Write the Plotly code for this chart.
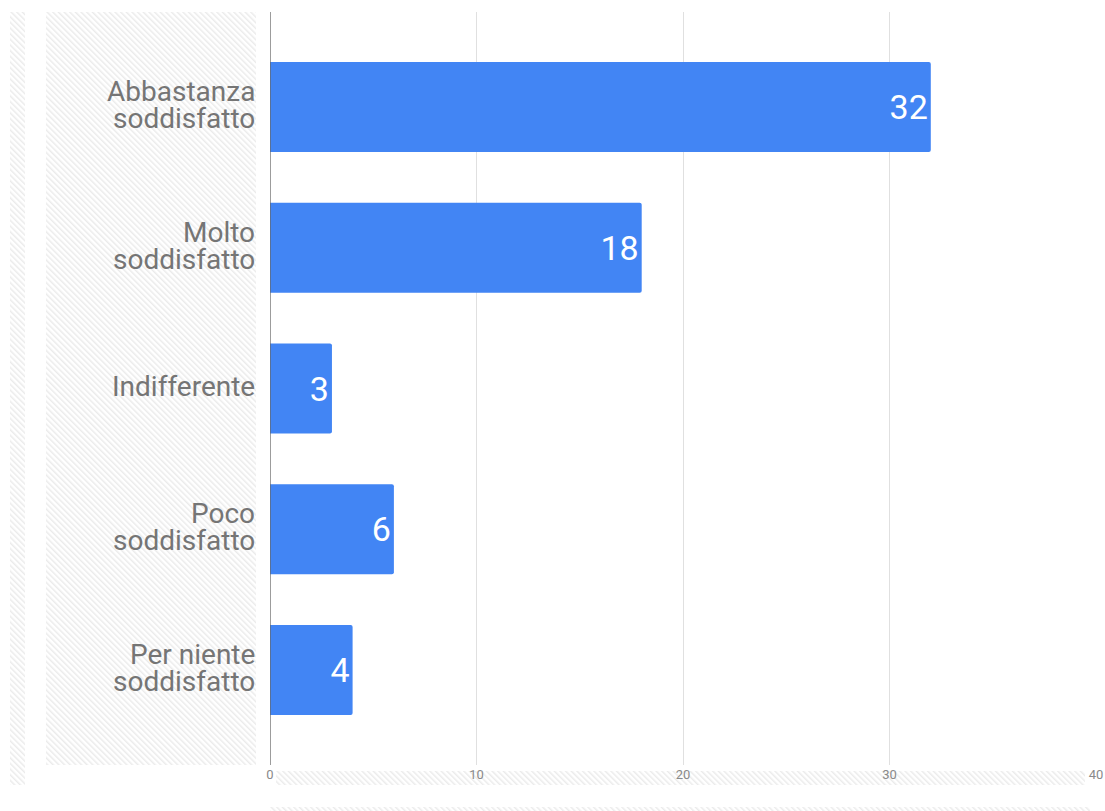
import base64
import plotly.graph_objects as go

categories = ["Abbastanza<br>soddisfatto", "Molto<br>soddisfatto", "Indifferente",
              "Poco<br>soddisfatto", "Per niente<br>soddisfatto"]
values = [32, 18, 3, 6, 4]
x_ticks = [0, 10, 20, 30, 40]

W, H = 1105, 811
L, R, T, B = 270, 9, 12, 46
PW, PH = W - L - R, H - T - B

BAR = "#4285f4"
LABEL = "#757575"
FONT = "Roboto"

fig = go.Figure()
fig.add_trace(go.Bar(
    y=categories, x=values, orientation="h",
    marker=dict(color=BAR, line=dict(width=0), cornerradius=2),
    text=[str(v) for v in values], textposition="inside",
    insidetextanchor="end", textangle=0,
    textfont=dict(family=FONT, size=34, color="white"),
    hoverinfo="skip", cliponaxis=False,
))

# category labels as annotations with tight line spacing (as in the reference)
for cat in categories:
    lines = cat.split("<br>")
    n = len(lines)
    for i, ln in enumerate(lines):
        shift = ((n - 1) / 2 - i) * 27 + 2
        fig.add_annotation(
            x=0, y=cat, xref="x", yref="y", text=ln, showarrow=False,
            xanchor="right", yanchor="middle", xshift=-13, yshift=shift,
            font=dict(family=FONT, size=28, color=LABEL),
        )


def hatch_svg(w, h):
    svg = (
        f'<svg xmlns="http://www.w3.org/2000/svg" width="{w}" height="{h}" '
        f'viewBox="0 0 {w} {h}" preserveAspectRatio="none">'
        '<defs><pattern id="p" patternUnits="userSpaceOnUse" width="4" height="4" '
        'patternTransform="rotate(-45)">'
        '<rect x="0" y="0" width="1.5" height="4" fill="#ebebeb"/></pattern></defs>'
        f'<rect width="{w}" height="{h}" fill="#ffffff"/>'
        f'<rect width="{w}" height="{h}" fill="url(#p)"/></svg>'
    )
    return "data:image/svg+xml;base64," + base64.b64encode(svg.encode()).decode()


hatch_boxes = [
    (10, 12, 25, 785),
    (46, 12, 256, 765),
    (276, 771, 1085, 785),
    (270, 807, 1090, 818),
]
for x0, y0, x1, y1 in hatch_boxes:
    w, h = x1 - x0, y1 - y0
    fig.add_layout_image(
        source=hatch_svg(w, h), xref="paper", yref="paper",
        x=(x0 - L) / PW, y=(H - B - y0) / PH,
        sizex=w / PW, sizey=h / PH, sizing="stretch",
        xanchor="left", yanchor="top", layer="below",
    )

fig.update_layout(
    width=W, height=H, autosize=False,
    margin=dict(l=L, r=R, t=T, b=B, autoexpand=False),
    paper_bgcolor="white", plot_bgcolor="rgba(0,0,0,0)",
    bargap=0.36, showlegend=False,
    font=dict(family=FONT),
    xaxis=dict(
        range=[0, 40], tickvals=x_ticks, ticktext=[str(t) for t in x_ticks],
        showgrid=True, gridcolor="#e0e0e0", gridwidth=1.3, zeroline=False,
        showline=False, ticks="", ticklen=0, automargin=False,
        tickfont=dict(family=FONT, size=13, color="#8a8a8a"),
        fixedrange=True,
    ),
    yaxis=dict(
        categoryorder="array", categoryarray=categories,
        range=[4.675, -0.675], showticklabels=False, showgrid=False,
        zeroline=False, showline=False, ticks="", fixedrange=True,
        automargin=False,
    ),
    shapes=[dict(type="line", xref="x", yref="paper", x0=0, x1=0, y0=0, y1=1,
                 line=dict(color="#666666", width=1.3), layer="above")],
)

fig.write_html(
    "out.html",
    config={"displayModeBar": False, "responsive": False},
    post_script="document.body.style.margin='0';document.body.style.overflow='hidden';",
)
